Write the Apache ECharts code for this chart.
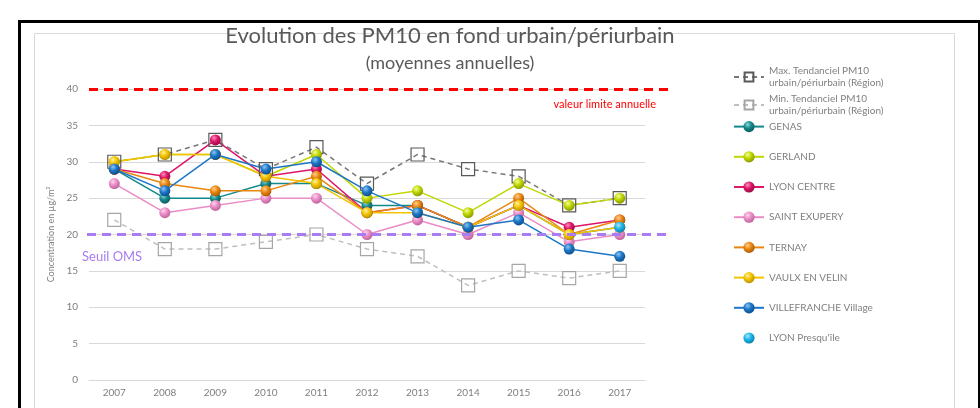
<!DOCTYPE html>
<html>
<head>
<meta charset="utf-8">
<script src="https://cdn.jsdelivr.net/npm/echarts@6/dist/echarts.min.js"></script>
<style>
  html, body { margin: 0; padding: 0; background: #fff; }
  #grafico { width: 980px; height: 408px; }
</style>
</head>
<body>
<div id="grafico"></div>
<script>
// annees et valeurs (µg/m3)
var years = ['2007', '2008', '2009', '2010', '2011', '2012', '2013', '2014', '2015', '2016', '2017'];
var maxTend = [30, 31, 33, 29, 32, 27, 31, 29, 28, 24, 25];
var minTend = [22, 18, 18, 19, 20, 18, 17, 13, 15, 14, 15];
var genas = [29, 25, 25, 27, 27, 24, 24, 21, 24, 20, 21];
var gerland = [30, 31, 31, 28, 31, 25, 26, 23, 27, 24, 25];
var lyonCentre = [29, 28, 33, 28, 29, 23, 24, 21, 24, 21, 22];
var saintExupery = [27, 23, 24, 25, 25, 20, 22, 20, 23, 19, 20];
var ternay = [29, 27, 26, 26, 28, 23, 24, 21, 25, 20, 22];
var vaulx = [30, 31, 31, 28, 27, 23, 23, 21, 24, 20, 21];
var villefranche = [29, 26, 31, 29, 30, 26, 23, 21, 22, 18, 17];
var presquile = [null, null, null, null, null, null, null, null, null, null, 21];
var valeurLimite = 40;
var seuilOMS = 20;

var nomMax = 'Max. Tendanciel PM10\nurbain/périurbain (Région)';
var nomMin = 'Min. Tendanciel PM10\nurbain/périurbain (Région) ';

function bille(c, light, dark) {
  return {
    type: 'radial', x: 0.38, y: 0.32, r: 0.75,
    colorStops: [
      {offset: 0, color: light},
      {offset: 0.45, color: c},
      {offset: 1, color: dark}
    ]
  };
}

function station(name, data, c, light, dark) {
  return {
    name: name,
    type: 'line',
    data: data,
    symbol: 'circle',
    symbolSize: 11,
    lineStyle: {color: c, width: 1.5},
    itemStyle: {color: bille(c, light, dark)},
    emphasis: {disabled: true}
  };
}

function grafico() {
  var chart = document.getElementById('grafico');
  var myChart = echarts.init(chart);
  var option = {
    animation: false,
    textStyle: {fontFamily: 'Lato'},
    title: {
      text: 'Evolution des PM10 en fond urbain/périurbain',
      subtext: '(moyennes annuelles)',
      left: 445,
      top: 20,
      textAlign: 'center',
      itemGap: 7,
      textStyle: {fontSize: 22, color: '#595959', fontWeight: 'normal'},
      subtextStyle: {fontSize: 18, color: '#595959'}
    },
    graphic: [
      {type: 'rect', left: 32, top: 31, shape: {width: 920, height: 400},
       style: {fill: null, stroke: '#d9d9d9', lineWidth: 1}, silent: true},
      {type: 'rect', left: 17, top: 19, shape: {width: 960, height: 400},
       style: {fill: null, stroke: '#000', lineWidth: 3}, silent: true}
    ],
    legend: [
      {
        orient: 'vertical',
        left: 728,
        top: 60,
        itemGap: 4,
        itemWidth: 30,
        itemHeight: 11,
        data: [nomMax, nomMin],
        textStyle: {fontSize: 10, color: '#808080', lineHeight: 12}
      },
      {
        orient: 'vertical',
        left: 728,
        top: 116,
        itemGap: 19,
        itemWidth: 30,
        itemHeight: 14,
        data: ['GENAS', 'GERLAND', 'LYON CENTRE', 'SAINT EXUPERY', 'TERNAY',
               'VAULX EN VELIN', 'VILLEFRANCHE Village', 'LYON Presqu\'île'],
        textStyle: {fontSize: 10, color: '#808080'}
      }
    ],
    grid: {left: 89, right: 335, top: 89, bottom: 28},
    xAxis: {
      type: 'category',
      data: years,
      axisLine: {lineStyle: {color: '#d9d9d9'}},
      axisTick: {show: false},
      axisLabel: {color: '#7f7f7f', fontSize: 10, margin: 8}
    },
    yAxis: {
      type: 'value',
      min: 0,
      max: 40,
      interval: 5,
      name: 'Concentration en µg/m³',
      nameLocation: 'middle',
      nameGap: 21,
      nameTextStyle: {fontSize: 9, color: '#7f7f7f'},
      axisLabel: {color: '#7f7f7f', fontSize: 10, margin: 11},
      splitLine: {lineStyle: {color: '#d9d9d9', width: 1}}
    },
    series: [
      {
        name: nomMax,
        type: 'line',
        data: maxTend,
        symbol: 'rect',
        symbolSize: 13,
        lineStyle: {color: '#777', width: 1.5, type: [5, 4]},
        itemStyle: {color: 'rgba(255,255,255,0)', borderColor: '#595959', borderWidth: 1.2},
        emphasis: {disabled: true},
        markLine: {
          silent: true,
          symbol: 'none',
          animation: false,
          data: [
            [
              {yAxis: valeurLimite, x: 89,
               lineStyle: {color: '#ff0000', width: 3, type: [9, 6]},
               label: {show: true, position: 'insideEndBottom', formatter: 'valeur limite annuelle',
                       color: '#ff0000', fontSize: 11, distance: [16, 10]}},
              {yAxis: valeurLimite, x: 672}
            ],
            [
              {yAxis: seuilOMS, x: 87,
               lineStyle: {color: '#a87cf2', width: 3, type: [9, 6]},
               label: {show: true, position: 'insideStartBottom', formatter: 'Seuil OMS',
                       color: '#a87cf2', fontSize: 13, distance: [-5, 16]}},
              {yAxis: seuilOMS, x: 668}
            ]
          ]
        }
      },
      {
        name: nomMin,
        type: 'line',
        data: minTend,
        symbol: 'rect',
        symbolSize: 13,
        lineStyle: {color: '#bfbfbf', width: 1.5, type: [5, 4]},
        itemStyle: {color: 'rgba(255,255,255,0)', borderColor: '#a6a6a6', borderWidth: 1.2},
        emphasis: {disabled: true}
      },
      station('GENAS', genas, '#13898b', '#8fd6d6', '#0a5556'),
      station('GERLAND', gerland, '#bfd600', '#f2ff9a', '#7f8f00'),
      station('LYON CENTRE', lyonCentre, '#dc1668', '#ff8fbe', '#8c0a40'),
      station('SAINT EXUPERY', saintExupery, '#ea8cc6', '#fbd6ec', '#b65d95'),
      station('TERNAY', ternay, '#ea8610', '#ffd08f', '#9c5400'),
      station('VAULX EN VELIN', vaulx, '#f4c300', '#fff1a0', '#b08a00'),
      station('VILLEFRANCHE Village', villefranche, '#1d77c6', '#8cc6f5', '#0b4785'),
      {
        name: 'LYON Presqu\'île',
        type: 'line',
        data: presquile,
        symbol: 'circle',
        symbolSize: 11,
        lineStyle: {width: 0, opacity: 0},
        itemStyle: {color: bille('#1cb4e6', '#a8e8ff', '#0b7aa3')},
        emphasis: {disabled: true}
      }
    ]
  };
  myChart.setOption(option);
}

grafico();
</script>
</body>
</html>
